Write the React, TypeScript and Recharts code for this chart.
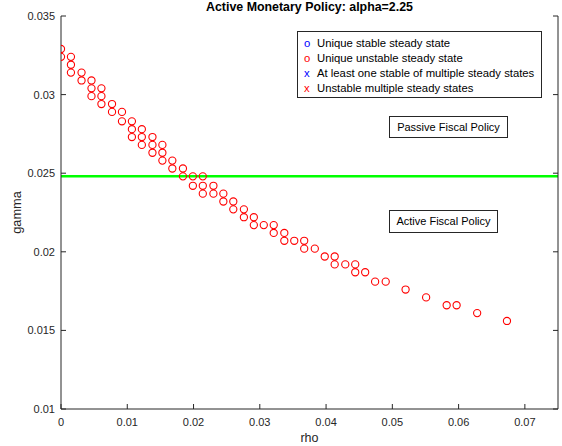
import React from "react";
import { ScatterChart, Scatter, XAxis, YAxis, ReferenceLine, Label } from "recharts";

// one entry per plotted point (rho, gamma)
const rho = [
  0, 0,
  0.0015, 0.0015, 0.0015,
  0.0031, 0.0031,
  0.0046, 0.0046, 0.0046,
  0.0061, 0.0061, 0.0061,
  0.0077, 0.0077,
  0.0092, 0.0092,
  0.0107, 0.0107, 0.0107,
  0.0122, 0.0122, 0.0122,
  0.0138, 0.0138, 0.0138,
  0.0153, 0.0153, 0.0153,
  0.0168, 0.0168,
  0.0184, 0.0184,
  0.0199, 0.0199,
  0.0214, 0.0214, 0.0214,
  0.023, 0.023,
  0.0245, 0.0245,
  0.026, 0.026,
  0.0276, 0.0276,
  0.0291, 0.0291,
  0.0306,
  0.0321, 0.0321,
  0.0337, 0.0337,
  0.0352,
  0.0367, 0.0367,
  0.0383,
  0.0398,
  0.0413, 0.0413,
  0.0429,
  0.0444, 0.0444,
  0.0459,
  0.0474,
  0.049,
  0.052,
  0.0551,
  0.0582,
  0.0597,
  0.0628,
  0.0673,
];

const gamma = [
  0.0329, 0.0324,
  0.0324, 0.0319, 0.0314,
  0.0314, 0.0309,
  0.0309, 0.0304, 0.0299,
  0.0304, 0.0299, 0.0294,
  0.0294, 0.0289,
  0.0289, 0.0283,
  0.0283, 0.0278, 0.0273,
  0.0278, 0.0273, 0.0268,
  0.0273, 0.0268, 0.0263,
  0.0268, 0.0263, 0.0258,
  0.0258, 0.0253,
  0.0253, 0.0248,
  0.0248, 0.0242,
  0.0248, 0.0242, 0.0237,
  0.0242, 0.0237,
  0.0237, 0.0232,
  0.0232, 0.0227,
  0.0227, 0.0222,
  0.0222, 0.0217,
  0.0217,
  0.0217, 0.0212,
  0.0212, 0.0207,
  0.0207,
  0.0207, 0.0202,
  0.0202,
  0.0197,
  0.0197, 0.0192,
  0.0192,
  0.0192, 0.0187,
  0.0187,
  0.0181,
  0.0181,
  0.0176,
  0.0171,
  0.0166,
  0.0166,
  0.0161,
  0.0156,
];

const xTicks = [0, 0.01, 0.02, 0.03, 0.04, 0.05, 0.06, 0.07];
const yTicks = [0.01, 0.015, 0.02, 0.025, 0.03, 0.035];
const xDomain = [0, 0.075];
const yDomain = [0.01, 0.035];
const fiscalBoundary = 0.0248;

const legendLabels = [
  "Unique stable steady state",
  "Unique unstable steady state",
  "At least one stable of multiple steady states",
  "Unstable multiple steady states",
];
const legendSymbols = ["o", "o", "x", "x"];
const legendColors = ["#0000ff", "#ff0000", "#0000ff", "#ff0000"];

const points = rho.map((r, i) => ({ rho: r, gamma: gamma[i] }));

const AXIS = "#262626";
const FONT = "'Liberation Sans', Arial, Helvetica, sans-serif";
const TICK_LEN = 5;

const BottomTick = (p: any) => (
  <g>
    <line x1={p.x} x2={p.x} y1={p.y} y2={p.y - TICK_LEN} stroke={AXIS} />
    <text x={p.x} y={p.y + 17} textAnchor="middle" fontSize={11} fontFamily={FONT} fill={AXIS}>
      {p.payload.value}
    </text>
  </g>
);

const TopTick = (p: any) => (
  <line x1={p.x} x2={p.x} y1={p.y} y2={p.y + TICK_LEN} stroke={AXIS} />
);

const LeftTick = (p: any) => (
  <g>
    <line x1={p.x} x2={p.x + TICK_LEN} y1={p.y} y2={p.y} stroke={AXIS} />
    <text x={p.x - 6} y={p.y + 4} textAnchor="end" fontSize={11} fontFamily={FONT} fill={AXIS}>
      {p.payload.value}
    </text>
  </g>
);

const RightTick = (p: any) => (
  <line x1={p.x} x2={p.x - TICK_LEN} y1={p.y} y2={p.y} stroke={AXIS} />
);

const RedCircle = (p: any) => (
  <circle cx={p.cx} cy={p.cy} r={3.6} fill="none" stroke="#ff0000" strokeWidth={1.1} />
);

const boxStyle: React.CSSProperties = {
  position: "absolute",
  border: `1px solid ${AXIS}`,
  background: "#fff",
  fontSize: 11,
  color: "#000",
  boxSizing: "border-box",
  whiteSpace: "nowrap",
};

export default function App() {
  return (
    <div style={{ position: "absolute", left: 0, top: 0, width: 562, height: 446, background: "#fff", fontFamily: FONT }}>
      <ScatterChart width={562} height={446} margin={{ top: 16, right: 0, bottom: 0, left: 0 }}>
        <XAxis
          xAxisId="b"
          dataKey="rho"
          type="number"
          domain={xDomain}
          ticks={xTicks}
          interval={0}
          height={37}
          tickSize={0}
          tickMargin={0}
          tickLine={false}
          tick={BottomTick}
          axisLine={{ stroke: AXIS }}
          allowDataOverflow
        >
          <Label
            content={({ viewBox }: any) => (
              <text x={viewBox.x + viewBox.width / 2} y={442} textAnchor="middle" fontSize={12.5} fontFamily={FONT} fill={AXIS}>
                rho
              </text>
            )}
          />
        </XAxis>
        <XAxis
          xAxisId="t"
          orientation="top"
          type="number"
          domain={xDomain}
          ticks={xTicks}
          interval={0}
          height={0}
          tickSize={0}
          tickMargin={0}
          tickLine={false}
          tick={TopTick}
          axisLine={{ stroke: AXIS }}
          allowDataOverflow
        />
        <YAxis
          yAxisId="l"
          dataKey="gamma"
          type="number"
          domain={yDomain}
          ticks={yTicks}
          interval={0}
          width={61}
          tickSize={0}
          tickMargin={0}
          tickLine={false}
          tick={LeftTick}
          axisLine={{ stroke: AXIS }}
          allowDataOverflow
        >
          <Label
            content={({ viewBox }: any) => {
              const cy = viewBox.y + viewBox.height / 2;
              return (
                <text x={20.5} y={cy} transform={`rotate(-90 20.5 ${cy})`} textAnchor="middle" fontSize={12.8} fontFamily={FONT} fill={AXIS}>
                  gamma
                </text>
              );
            }}
          />
        </YAxis>
        <YAxis
          yAxisId="r"
          orientation="right"
          type="number"
          domain={yDomain}
          ticks={yTicks}
          interval={0}
          width={4}
          tickSize={0}
          tickMargin={0}
          tickLine={false}
          tick={RightTick}
          axisLine={{ stroke: AXIS }}
          allowDataOverflow
        />
        <ReferenceLine xAxisId="b" yAxisId="l" y={fiscalBoundary} stroke="#00ff00" strokeWidth={2.5} />
        <Scatter xAxisId="b" yAxisId="l" data={points} shape={RedCircle} isAnimationActive={false} />
      </ScatterChart>

      <div
        style={{
          position: "absolute",
          left: 0,
          top: 1,
          width: 619,
          textAlign: "center",
          fontWeight: "bold",
          fontSize: 12.4,
          color: "#000",
          lineHeight: "13px",
        }}
      >
        Active Monetary Policy: alpha=2.25
      </div>

      <div style={{ ...boxStyle, left: 297, top: 31, width: 245, height: 67, padding: "4px 0 0 6px", fontSize: 11.3 }}>
        {legendLabels.map((lbl, i) => (
          <div key={lbl} style={{ height: 14.9, lineHeight: "14.9px" }}>
            <span style={{ display: "inline-block", width: 13, color: legendColors[i] }}>{legendSymbols[i]}</span>
            {lbl}
          </div>
        ))}
      </div>

      <div style={{ ...boxStyle, left: 389, top: 116, width: 119, height: 22, lineHeight: "20px", textAlign: "center" }}>
        Passive Fiscal Policy
      </div>
      <div style={{ ...boxStyle, left: 389, top: 210, width: 109, height: 23, lineHeight: "21px", textAlign: "center" }}>
        Active Fiscal Policy
      </div>
    </div>
  );
}
